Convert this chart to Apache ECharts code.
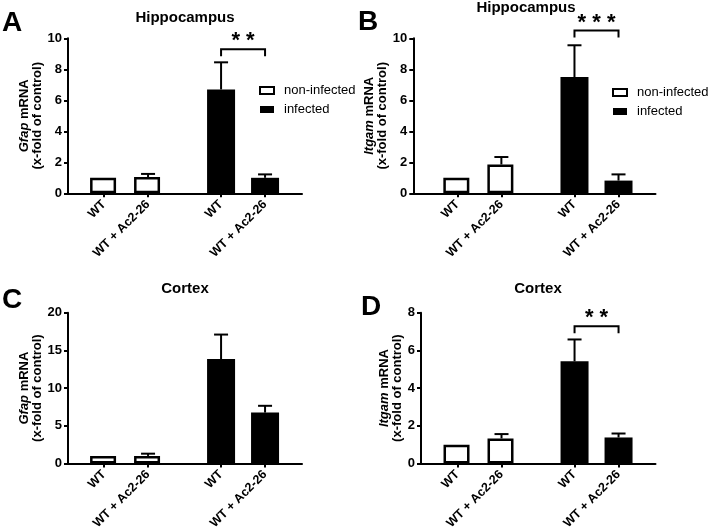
<!DOCTYPE html>
<html>
<head>
<meta charset="utf-8">
<script src="https://cdn.jsdelivr.net/npm/echarts@6/dist/echarts.min.js"></script>
<style>html,body{margin:0;padding:0;background:#fff}#chart{width:709px;height:532px}</style>
</head>
<body>
<div id="chart"></div>
<script>
// ---- data ----
const groupLabels = ['WT', 'WT + Ac2-26', 'WT', 'WT + Ac2-26'];
const seriesNames = ['non-infected', 'infected'];
const panelLetters = ['A', 'B', 'C', 'D'];
const panelTitles = ['Hippocampus', 'Hippocampus', 'Cortex', 'Cortex'];
const panelGenes = ['Gfap', 'Itgam', 'Gfap', 'Itgam'];

// Gfap, hippocampus (A)
const gfapHippoNonInf = [1.0, 1.05];
const gfapHippoNonInfUpper = [1.0, 1.25];
const gfapHippoInf = [6.7, 1.0];
const gfapHippoInfUpper = [8.45, 1.22];
const gfapHippoSig = [{ from: 2, to: 3, y: 9.3, label: '**' }];

// Itgam, hippocampus (B)
const itgamHippoNonInf = [1.0, 1.86];
const itgamHippoNonInfUpper = [1.0, 2.34];
const itgamHippoInf = [7.5, 0.82];
const itgamHippoInfUpper = [9.55, 1.22];
const itgamHippoSig = [{ from: 2, to: 3, y: 10.5, label: '***' }];

// Gfap, cortex (C)
const gfapCortexNonInf = [1.0, 1.0];
const gfapCortexNonInfUpper = [1.0, 1.3];
const gfapCortexInf = [13.85, 6.75];
const gfapCortexInfUpper = [17.1, 7.65];
const gfapCortexSig = [];

// Itgam, cortex (D)
const itgamCortexNonInf = [1.0, 1.33];
const itgamCortexNonInfUpper = [1.0, 1.56];
const itgamCortexInf = [5.42, 1.38];
const itgamCortexInfUpper = [6.58, 1.59];
const itgamCortexSig = [{ from: 2, to: 3, y: 7.28, label: '**' }];

const yMaxes = [10, 10, 20, 8];
const yIntervals = [2, 2, 5, 2];

// ---- layout / style ----
const FONT = '"Liberation Sans", Arial, sans-serif';
const slots = [1, 2, 3.66, 4.66]; // bar positions along the value x-axis
const layouts = [
  { left: 68, top: 38.3, width: 234, height: 155, xMin: 0.18, nameGap: 23, titleX: 185, titleY: 18, letterX: 12, letterY: 23, legend: { left: 259, top: 84 } },
  { left: 413.3, top: 38.3, width: 242.2, height: 155, xMin: 0, nameGap: 17, titleX: 526, titleY: 8, letterX: 368, letterY: 22, legend: { left: 612, top: 86 } },
  { left: 68, top: 312.7, width: 234, height: 155, xMin: 0.18, nameGap: 23, titleX: 185, titleY: 289, letterX: 12, letterY: 300 },
  { left: 421, top: 312.7, width: 234.5, height: 155, xMin: 0.17, nameGap: 16, titleX: 538, titleY: 289, letterX: 371, letterY: 307 }
];
const panelsData = [
  [gfapHippoNonInf, gfapHippoNonInfUpper, gfapHippoInf, gfapHippoInfUpper, gfapHippoSig],
  [itgamHippoNonInf, itgamHippoNonInfUpper, itgamHippoInf, itgamHippoInfUpper, itgamHippoSig],
  [gfapCortexNonInf, gfapCortexNonInfUpper, gfapCortexInf, gfapCortexInfUpper, gfapCortexSig],
  [itgamCortexNonInf, itgamCortexNonInfUpper, itgamCortexInf, itgamCortexInfUpper, itgamCortexSig]
];

function labelFor(v) {
  let best = 0, bd = Infinity;
  slots.forEach((s, i) => { const d = Math.abs(s - v); if (d < bd) { bd = d; best = i; } });
  return bd < 0.05 ? groupLabels[best] : '';
}

function renderErr(params, api) {
  const x = api.value(0), m = api.value(1), u = api.value(2);
  if (!(u > m)) return null;
  const p0 = api.coord([x, m]);
  const p1 = api.coord([x, u]);
  return {
    type: 'group',
    children: [
      { type: 'line', shape: { x1: p0[0], y1: p0[1], x2: p1[0], y2: p1[1] }, style: { stroke: '#000', lineWidth: 2 } },
      { type: 'line', shape: { x1: p1[0] - 7, y1: p1[1], x2: p1[0] + 7, y2: p1[1] }, style: { stroke: '#000', lineWidth: 2 } }
    ]
  };
}

function makeSigRenderer(sigList) {
  return function (params, api) {
    const a = api.coord([api.value(0), api.value(2)]);
    const b = api.coord([api.value(1), api.value(2)]);
    const drop = 7;
    const stars = sigList[params.dataIndex].label.split('').join(' ');
    return {
      type: 'group',
      children: [
        { type: 'polyline', shape: { points: [[a[0], a[1] + drop], [a[0], a[1]], [b[0], b[1]], [b[0], b[1] + drop]] }, style: { stroke: '#000', lineWidth: 2, fill: null } },
        { type: 'text', style: { x: (a[0] + b[0]) / 2, y: a[1] - 8, text: stars, font: 'bold 22px ' + FONT, textAlign: 'center', textVerticalAlign: 'middle', fill: '#000' } }
      ]
    };
  };
}

const grids = [], xAxes = [], yAxes = [], series = [], legends = [], graphics = [];
layouts.forEach((L, i) => {
  const [nonInf, nonInfUp, inf, infUp, sig] = panelsData[i];
  grids.push({ left: L.left, top: L.top, width: L.width, height: L.height, containLabel: false });
  xAxes.push({
    type: 'value', gridIndex: i, min: L.xMin, max: 5.5,
    axisLine: { onZero: false, lineStyle: { color: '#000', width: 2 } },
    axisTick: { show: true, customValues: slots, length: 4, lineStyle: { color: '#000', width: 2 } },
    axisLabel: { customValues: slots, rotate: 45, margin: 9, formatter: labelFor, color: '#000', fontWeight: 'bold', fontSize: 12.5, fontFamily: FONT },
    splitLine: { show: false }
  });
  yAxes.push({
    type: 'value', gridIndex: i, min: 0, max: yMaxes[i], interval: yIntervals[i],
    name: '{i|' + panelGenes[i] + '} mRNA\n(x-fold of control)',
    nameLocation: 'middle', nameRotate: 90, nameGap: L.nameGap,
    nameTextStyle: {
      color: '#000', fontWeight: 'bold', fontSize: 13, lineHeight: 13, fontFamily: FONT,
      rich: { i: { fontStyle: 'italic', fontWeight: 'bold', fontSize: 13, fontFamily: FONT, color: '#000', lineHeight: 13 } }
    },
    axisLine: { show: true, onZero: false, lineStyle: { color: '#000', width: 2 } },
    axisTick: { show: true, length: 4, lineStyle: { color: '#000', width: 2 } },
    axisLabel: { margin: 6, color: '#000', fontWeight: 'bold', fontSize: 13, fontFamily: FONT },
    splitLine: { show: false }
  });
  series.push({
    type: 'bar', name: seriesNames[0], xAxisIndex: i, yAxisIndex: i,
    barWidth: 26, barGap: '-100%',
    itemStyle: { color: '#fff', borderColor: '#000', borderWidth: 2.5 },
    data: nonInf.map((v, k) => [slots[k], v]), z: 2, animation: false
  });
  series.push({
    type: 'bar', name: seriesNames[1], xAxisIndex: i, yAxisIndex: i,
    barWidth: 28, barGap: '-100%',
    itemStyle: { color: '#000' },
    data: inf.map((v, k) => [slots[k + 2], v]), z: 2, animation: false
  });
  const errData = nonInf.map((v, k) => [slots[k], v, nonInfUp[k]]).concat(inf.map((v, k) => [slots[k + 2], v, infUp[k]]));
  series.push({
    type: 'custom', xAxisIndex: i, yAxisIndex: i, renderItem: renderErr,
    encode: { x: 0, y: [1, 2] }, data: errData, z: 3, animation: false, silent: true
  });
  if (sig.length) {
    series.push({
      type: 'custom', xAxisIndex: i, yAxisIndex: i, renderItem: makeSigRenderer(sig), clip: false,
      encode: { x: [0, 1], y: 2 }, data: sig.map(s => [slots[s.from], slots[s.to], s.y]), z: 4, animation: false, silent: true
    });
  }
  if (L.legend) {
    legends.push({
      left: L.legend.left, top: L.legend.top, orient: 'vertical', data: seriesNames,
      icon: 'rect', itemWidth: 14, itemHeight: 7, itemGap: 6, selectedMode: false, padding: 0,
      textStyle: { color: '#000', fontSize: 13, fontFamily: FONT, padding: [0, 0, 0, 5] }
    });
  }
  graphics.push({ type: 'text', x: L.titleX, y: L.titleY, style: { text: panelTitles[i], font: 'bold 15px ' + FONT, textAlign: 'center', textVerticalAlign: 'middle', fill: '#000' } });
  graphics.push({ type: 'text', x: L.letterX, y: L.letterY, style: { text: panelLetters[i], font: 'bold 28px ' + FONT, textAlign: 'center', textVerticalAlign: 'middle', fill: '#000' } });
});

const chart = echarts.init(document.getElementById('chart'), null, { renderer: 'canvas' });
chart.setOption({
  animation: false,
  backgroundColor: '#fff',
  grid: grids, xAxis: xAxes, yAxis: yAxes, series: series, legend: legends, graphic: graphics
});
</script>
</body>
</html>
